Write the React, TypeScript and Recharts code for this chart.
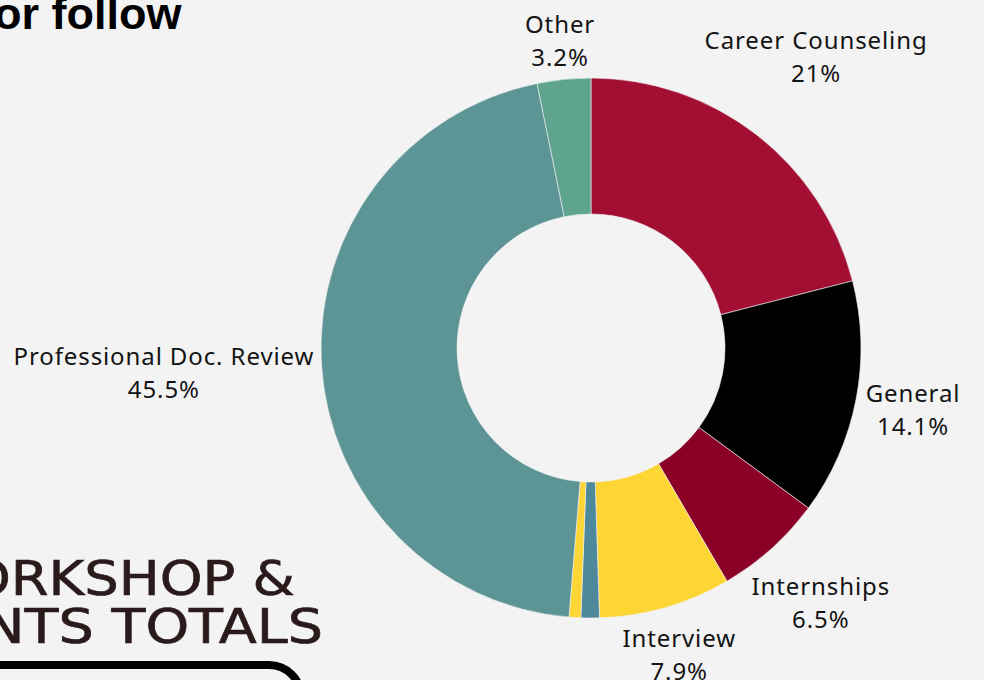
import React from "react";
import { PieChart, Pie, Cell } from "recharts";

const categories = [
  "Career Counseling",
  "General",
  "Internships",
  "Interview",
  "Other (blue)",
  "Other (yellow)",
  "Professional Doc. Review",
  "Other",
];
const values = [21, 14.1, 6.5, 7.9, 1.1, 0.7, 45.5, 3.2];
const showLabel = [true, true, true, true, false, false, true, true];
const colors = [
  "#a30f33",
  "#000000",
  "#8a0027",
  "#fdd535",
  "#4d889b",
  "#fdd535",
  "#5d9495",
  "#5ea48e",
];

const data = categories.map((name, i) => ({ name, value: values[i] }));

const FONT_SIZE = 24;
const LETTER = 0.9;
const FONT = '"Noto Sans", sans-serif';
const LINE_H = 33;

let ctx: CanvasRenderingContext2D | null = null;
function measure(t: string): number {
  if (!ctx) {
    const c = document.createElement("canvas");
    ctx = c.getContext("2d");
  }
  if (!ctx) return t.length * FONT_SIZE * 0.55;
  ctx.font = `${FONT_SIZE}px "Noto Sans"`;
  return ctx.measureText(t).width + t.length * LETTER;
}

const RADIAN = Math.PI / 180;

function renderLabel(props: any) {
  const { cx, cy, midAngle, outerRadius, index } = props;
  if (!showLabel[index]) return null;
  const l1 = categories[index];
  const l2 = `${values[index]}%`;
  const w = Math.max(measure(l1), measure(l2));
  const h = LINE_H * 2 - 8;
  const c = Math.cos(-midAngle * RADIAN);
  const s = Math.sin(-midAngle * RADIAN);
  const r = outerRadius + 6 + (w / 2) * Math.abs(c) + (h / 2) * Math.abs(s);
  const x = cx + r * c;
  const y = cy + r * s;
  return (
    <text
      key={`lbl-${index}`}
      x={x}
      y={y}
      textAnchor="middle"
      fill="#141414"
      fontFamily={FONT}
      fontSize={FONT_SIZE}
      letterSpacing={LETTER}
    >
      <tspan x={x} dy={-LINE_H / 2 + 8}>
        {l1}
      </tspan>
      <tspan x={x} dy={LINE_H}>
        {l2}
      </tspan>
    </text>
  );
}

export default function App() {
  return (
    <div
      style={{
        position: "fixed",
        left: 0,
        top: 0,
        width: 984,
        height: 680,
        background: "#f3f3f3",
        overflow: "hidden",
      }}
    >
      <div
        style={{
          position: "absolute",
          left: -6,
          top: -12,
          fontFamily: '"Liberation Sans", Arial, sans-serif',
          fontWeight: 700,
          fontSize: 45,
          color: "#000",
          whiteSpace: "nowrap",
        }}
      >
        or follow
      </div>
      <svg
        width={984}
        height={680}
        style={{ position: "absolute", left: 0, top: 0 }}
      >
        <text
          x={-32}
          y={595}
          fontFamily='"DejaVu Sans", sans-serif'
          fontSize={48}
          fill="#2a1a1c"
          stroke="#2a1a1c"
          strokeWidth={0.7}
          textLength={327}
          lengthAdjust="spacingAndGlyphs"
        >
          ORKSHOP &amp;
        </text>
        <text
          x={-17}
          y={643}
          fontFamily='"DejaVu Sans", sans-serif'
          fontSize={48}
          fill="#2a1a1c"
          stroke="#2a1a1c"
          strokeWidth={0.7}
          textLength={340}
          lengthAdjust="spacingAndGlyphs"
        >
          NTS TOTALS
        </text>
      </svg>
      <div
        style={{
          position: "absolute",
          left: -40,
          top: 661,
          width: 345,
          height: 80,
          border: "8px solid #000",
          borderRadius: 36,
          boxSizing: "border-box",
        }}
      />
      <div style={{ position: "absolute", left: 0, top: 0 }}>
        <PieChart
          width={984}
          height={680}
          margin={{ top: 0, right: 0, bottom: 0, left: 0 }}
        >
          <Pie
            data={data}
            dataKey="value"
            nameKey="name"
            cx={591}
            cy={348}
            innerRadius={134}
            outerRadius={270}
            startAngle={90}
            endAngle={-270}
            stroke="#f3f3f3"
            strokeWidth={0.6}
            label={renderLabel}
            labelLine={false}
            isAnimationActive={false}
          >
            {data.map((d, i) => (
              <Cell key={d.name + i} fill={colors[i]} />
            ))}
          </Pie>
        </PieChart>
      </div>
    </div>
  );
}
